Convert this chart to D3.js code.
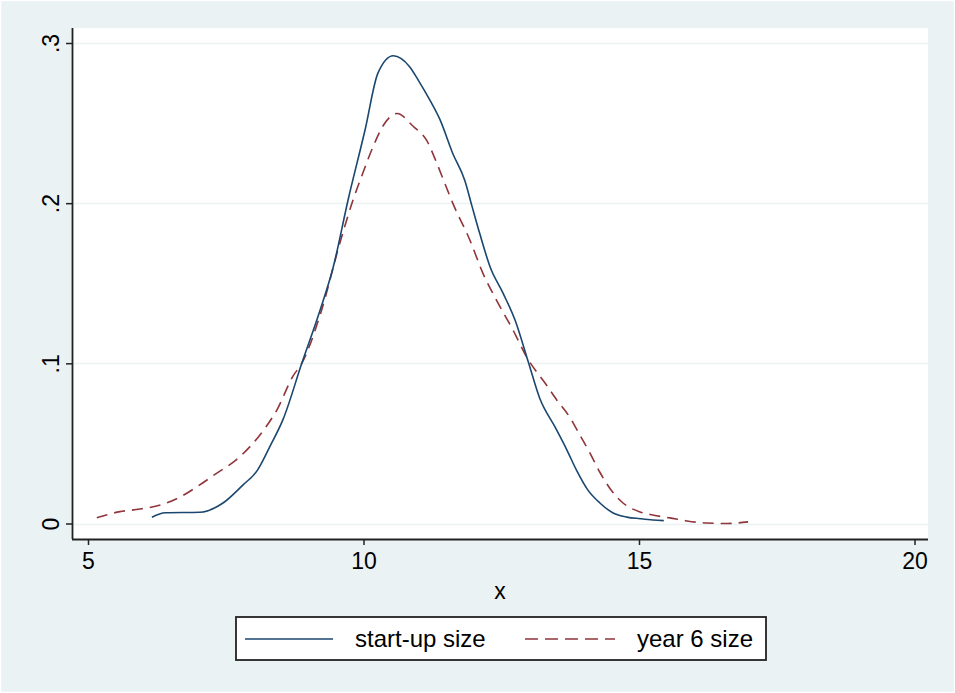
<!DOCTYPE html>
<html>
<head>
<meta charset="utf-8">
<script src="https://cdn.jsdelivr.net/npm/d3@7"></script>
<style>
  body { margin: 0; background: #eaf2f3; }
  text { font-family: "Liberation Sans", Arial, sans-serif; fill: #000; }
</style>
</head>
<body>
<div id="chart"></div>
<script>
// kernel density estimates
var startupX = [6.16, 6.40, 7.03, 7.45, 7.81, 8.07, 8.30, 8.54, 8.88, 9.21, 9.45, 9.72, 10.03, 10.26, 10.54, 10.84, 10.99, 11.21, 11.39, 11.62, 11.84, 11.97, 12.11, 12.30, 12.53, 12.75, 12.99, 13.20, 13.48, 13.69, 13.87, 14.07, 14.29, 14.53, 14.78, 15.02, 15.25, 15.45]
var startupY = [.0039, .0067, .007, .0128, .024, .033, .048, .065, .100, .133, .160, .202, .246, .281, .292, .285, .277, .264, .252, .231, .214, .198, .181, .160, .144, .127, .101, .078, .060, .046, .033, .021, .0128, .0066, .004, .003, .0022, .0018]

var year6X = [5.16, 5.58, 5.94, 6.36, 6.67, 6.98, 7.34, 7.70, 7.94, 8.18, 8.43, 8.72, 8.88, 9.22, 9.57, 9.81, 9.99, 10.17, 10.35, 10.61, 10.90, 11.15, 11.33, 11.48, 11.62, 11.93, 12.17, 12.42, 12.71, 12.96, 13.33, 13.51, 13.75, 13.93, 14.11, 14.29, 14.47, 14.71, 15.02, 15.25, 15.56, 15.87, 16.23, 16.60, 16.98]
var year6Y = [.0036, .0074, .009, .012, .0165, .023, .0315, .040, .048, .058, .071, .092, .100, .131, .175, .202, .219, .235, .248, .256, .248, .239, .225, .212, .200, .177, .156, .139, .121, .104, .086, .077, .066, .055, .044, .032, .022, .0128, .0072, .0053, .0035, .0016, .0003, .0, .001]

var xTicks = [5, 10, 15, 20]
var yTicks = [0, .1, .2, .3]
var yTickLabels = ["0", ".1", ".2", ".3"]
var seriesNames = ["start-up size", "year 6 size"]
var seriesColors = ["#1a476f", "#90353b"]
var xTitle = "x"

var W = 955, H = 693
var plot = {left: 72, top: 28, right: 928, bottom: 539}

var svg = d3.select("#chart").append("svg").attr("width", W).attr("height", H)

svg.append("rect").attr("x", 0.5).attr("y", 0.5).attr("width", W - 1).attr("height", H - 1)
    .attr("fill", "#eaf2f3").attr("stroke", "#fff").attr("stroke-width", 1.5)

svg.append("rect")
    .attr("x", plot.left).attr("y", plot.top)
    .attr("width", plot.right - plot.left).attr("height", plot.bottom - plot.top)
    .attr("fill", "#fff")

var x = d3.scaleLinear().domain([5, 20]).range([88, 914.5])
var y = d3.scaleLinear().domain([0, .3]).range([523.5, 43])

// gridlines
svg.append("g").selectAll("line").data(yTicks).enter().append("line")
    .attr("x1", plot.left).attr("x2", plot.right)
    .attr("y1", function(d) { return Math.round(y(d)) + 0.5 })
    .attr("y2", function(d) { return Math.round(y(d)) + 0.5 })
    .attr("stroke", "#eaf2f3").attr("stroke-width", 1.5)

// axes
var yAxis = d3.axisLeft(y).tickValues(yTicks).tickSize(6).tickFormat(function(d, i) { return yTickLabels[i] })
var gy = svg.append("g").attr("transform", "translate(" + plot.left + ",0)").call(yAxis)
gy.select(".domain").attr("d", "M0.5," + plot.top + "V" + plot.bottom).attr("stroke", "#222").attr("stroke-width", 1.8)
gy.selectAll(".tick line").attr("stroke", "#222").attr("stroke-width", 1.5)
gy.selectAll(".tick text")
    .attr("font-size", 23).attr("font-family", "Liberation Sans, Arial, sans-serif")
    .attr("text-anchor", "middle")
    .attr("x", 0).attr("dy", 0)
    .attr("transform", "translate(-21,0) rotate(-90)")
    .attr("y", 0)
    .attr("dominant-baseline", "central")

var xAxis = d3.axisBottom(x).tickValues(xTicks).tickSize(6).tickSizeOuter(0)
var gx = svg.append("g").attr("transform", "translate(0," + plot.bottom + ")").call(xAxis)
gx.select(".domain").attr("d", "M" + plot.left + ",0.5H" + plot.right).attr("stroke", "#222").attr("stroke-width", 1.8)
gx.selectAll(".tick line").attr("stroke", "#222").attr("stroke-width", 1.5)
gx.selectAll(".tick text")
    .attr("font-size", 23).attr("font-family", "Liberation Sans, Arial, sans-serif")
    .attr("y", 14).attr("dy", "0.71em")

svg.append("text").attr("x", 500).attr("y", 599)
    .attr("text-anchor", "middle").attr("font-size", 23).text(xTitle)

// lines
var line = d3.line()
    .x(function(d) { return x(d[0]) })
    .y(function(d) { return y(d[1]) })
    .curve(d3.curveMonotoneX)

var startup = d3.zip(startupX, startupY)
var year6 = d3.zip(year6X, year6Y)

svg.append("path").datum(year6).attr("d", line)
    .attr("fill", "none").attr("stroke", seriesColors[1]).attr("stroke-width", 1.6)
    .attr("stroke-dasharray", "11,7")

svg.append("path").datum(startup).attr("d", line)
    .attr("fill", "none").attr("stroke", seriesColors[0]).attr("stroke-width", 1.6)

// legend
var lg = svg.append("g")
lg.append("rect").attr("x", 236).attr("y", 617).attr("width", 530).attr("height", 43)
    .attr("fill", "#fff").attr("stroke", "#222").attr("stroke-width", 1.8)

var legendItems = [
    {x1: 245, x2: 333, tx: 355, dash: null},
    {x1: 525, x2: 615, tx: 637, dash: "13,7"}
]
legendItems.forEach(function(d, i) {
    lg.append("line").attr("x1", d.x1).attr("x2", d.x2).attr("y1", 639).attr("y2", 639)
        .attr("stroke", seriesColors[i]).attr("stroke-width", 1.6)
        .attr("stroke-dasharray", d.dash)
    lg.append("text").attr("x", d.tx).attr("y", 647).attr("font-size", 24).text(seriesNames[i])
})
</script>
</body>
</html>
